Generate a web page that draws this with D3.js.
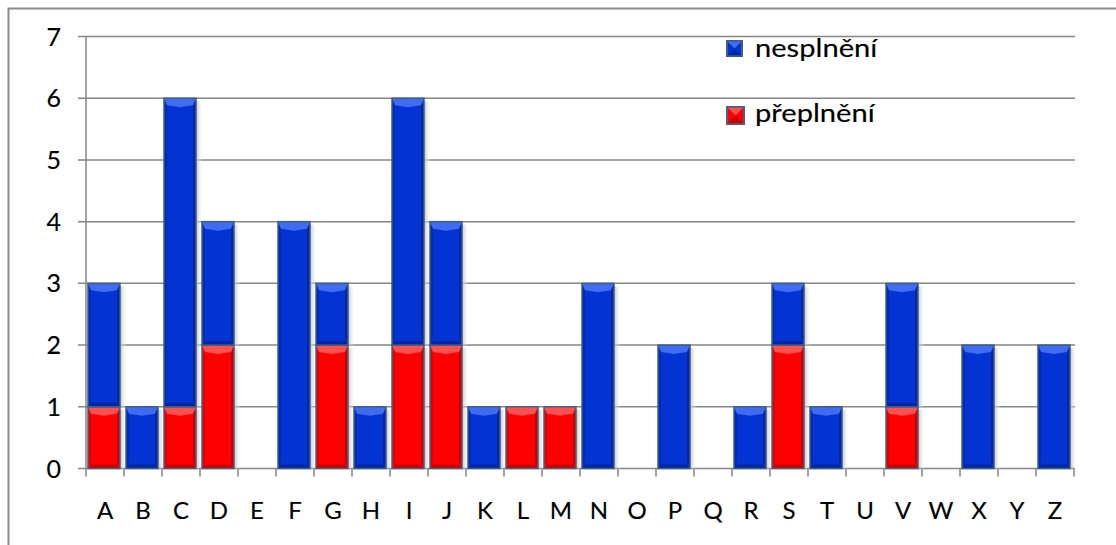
<!DOCTYPE html>
<html>
<head>
<meta charset="utf-8">
<script src="https://cdn.jsdelivr.net/npm/d3@7"></script>
<style>
  body { margin: 0; background: #fff; }
  text { font-family: Lato, "Open Sans", sans-serif; fill: #000; stroke: #000; stroke-width: 0.15px; }
</style>
</head>
<body>
<svg id="chart" width="1116" height="545"></svg>
<script>
"use strict";

// categories and values
const categories = ["A","B","C","D","E","F","G","H","I","J","K","L","M","N","O","P","Q","R","S","T","U","V","W","X","Y","Z"];
// red part (bottom)
const preplneni = [1,0,1,2,0,0,2,0,2,2,0,1,1,0,0,0,0,0,2,0,0,1,0,0,0,0];
// blue part (top)
const nesplneni = [2,1,5,2,0,4,1,1,4,2,1,0,0,3,0,2,0,1,1,1,0,2,0,2,0,2];
const yTicks = [0,1,2,3,4,5,6,7];
const seriesNames = ["nesplnění", "přeplnění"];

const svg = d3.select("#chart");

// outer frame (cut off at right/bottom)
svg.append("path")
    .attr("d", "M8.5,545 L8.5,8.5 L1116,8.5")
    .attr("fill", "none")
    .attr("stroke", "#8c8c8c")
    .attr("stroke-width", 2);

const margin = {left: 86, right: 1074, top: 36.5, bottom: 468.5};

const y = d3.scaleLinear()
    .domain([0, 7])
    .range([margin.bottom, margin.top]);

const x = d3.scaleBand()
    .domain(categories)
    .range([margin.left, margin.right]);

// gridlines
svg.append("g")
    .selectAll("line")
    .data(yTicks)
    .enter()
    .append("line")
    .attr("x1", margin.left - 8)
    .attr("x2", margin.right + 1)
    .attr("y1", d => y(d))
    .attr("y2", d => y(d))
    .attr("stroke", "#868686")
    .attr("stroke-width", 1.5);

// y axis line
svg.append("line")
    .attr("x1", margin.left).attr("x2", margin.left)
    .attr("y1", margin.top).attr("y2", margin.bottom)
    .attr("stroke", "#868686").attr("stroke-width", 1.5);

// y labels
svg.append("g")
    .selectAll("text")
    .data(yTicks)
    .enter()
    .append("text")
    .attr("x", 61)
    .attr("y", d => y(d))
    .attr("dy", "0.36em")
    .attr("text-anchor", "end")
    .attr("font-size", 25)
    .text(d => d);

// x ticks (category boundaries)
const boundaries = categories.map(c => x(c)).concat([margin.right]);
svg.append("g")
    .selectAll("line")
    .data(boundaries)
    .enter()
    .append("line")
    .attr("x1", d => d).attr("x2", d => d)
    .attr("y1", margin.bottom).attr("y2", margin.bottom + 8)
    .attr("stroke", "#868686").attr("stroke-width", 1.5);

// x labels
svg.append("g")
    .selectAll("text")
    .data(categories)
    .enter()
    .append("text")
    .attr("x", d => x(d) + x.bandwidth() / 2)
    .attr("y", 519)
    .attr("text-anchor", "middle")
    .attr("font-size", 24)
    .text(d => d);

// gradient for the shadow
const defs = svg.append("defs");
const sh = defs.append("linearGradient").attr("id", "shadow").attr("x1", 0).attr("x2", 1);
sh.append("stop").attr("offset", 0).attr("stop-color", "#b8b8b8").attr("stop-opacity", 0.9);
sh.append("stop").attr("offset", 1).attr("stop-color", "#ffffff").attr("stop-opacity", 0);

const palettes = {
    blue: {base: "#0433d4", top: "#3f6cf2", bottom: "#0226a0", side: "#0329b8", stroke: "#3f5f88"},
    red:  {base: "#ff0000", top: "#ff5050", bottom: "#c80000", side: "#e30000", stroke: "#4a6184"}
};

// bevelled bar
function drawBar(g, x0, w, y0, y1, pal) {
    const h = y0 - y1;
    if (h <= 0) return;
    const b = Math.min(7, h / 2);
    // shadow at right side
    g.append("rect")
        .attr("x", x0 + w).attr("y", y1 + 3)
        .attr("width", 7).attr("height", h - 3)
        .attr("fill", "url(#shadow)");
    g.append("rect")
        .attr("x", x0).attr("y", y1).attr("width", w).attr("height", h)
        .attr("fill", pal.base);
    // left and right bevels
    g.append("polygon")
        .attr("points", [[x0, y1], [x0 + 3, y1 + b], [x0 + 3, y0 - b], [x0, y0]].join(" "))
        .attr("fill", pal.side);
    g.append("polygon")
        .attr("points", [[x0 + w, y1], [x0 + w - 3, y1 + b], [x0 + w - 3, y0 - b], [x0 + w, y0]].join(" "))
        .attr("fill", pal.bottom);
    // top bevel
    g.append("polygon")
        .attr("points", [[x0, y1], [x0 + w, y1], [x0 + w - 3, y1 + b], [x0 + w / 2, y1 + b + 2], [x0 + 3, y1 + b]].join(" "))
        .attr("fill", pal.top);
    // bottom bevel
    g.append("polygon")
        .attr("points", [[x0, y0], [x0 + w, y0], [x0 + w - 3, y0 - 4], [x0 + 3, y0 - 4]].join(" "))
        .attr("fill", pal.bottom);
    g.append("rect")
        .attr("x", x0).attr("y", y1).attr("width", w).attr("height", h)
        .attr("fill", "none")
        .attr("stroke", pal.stroke)
        .attr("stroke-width", 1.5);
}

const bars = svg.append("g");
const bw = 32;
categories.forEach((c, i) => {
    const x0 = x(c) + x.bandwidth() / 2 - 1 - bw / 2;
    const r = preplneni[i], bl = nesplneni[i];
    drawBar(bars, x0, bw, y(0), y(r), palettes.red);
    drawBar(bars, x0, bw, y(r), y(r + bl), palettes.blue);
});

// legend
const legend = svg.append("g");
const legendItems = [
    {name: seriesNames[0], pal: palettes.blue, cy: 48.5, s: 15, base: 57},
    {name: seriesNames[1], pal: palettes.red, cy: 115.5, s: 17, base: 122}
];
legendItems.forEach(it => {
    const s = it.s;
    const lx = 727, ly = it.cy - s / 2;
    legend.append("rect").attr("x", lx).attr("y", ly).attr("width", s).attr("height", s)
        .attr("fill", it.pal.base).attr("stroke", it.pal.stroke).attr("stroke-width", 2);
    legend.append("polygon")
        .attr("points", [[lx, ly], [lx + s, ly], [lx + s / 2, ly + s / 2]].join(" "))
        .attr("fill", it.pal.top);
    legend.append("polygon")
        .attr("points", [[lx, ly + s], [lx + s, ly + s], [lx + s / 2, ly + s / 2]].join(" "))
        .attr("fill", it.pal.bottom);
    legend.append("rect").attr("x", lx).attr("y", ly).attr("width", s).attr("height", s)
        .attr("fill", "none").attr("stroke", it.pal.stroke).attr("stroke-width", 1.5);
    legend.append("text")
        .attr("transform", "translate(755," + it.base + ") scale(1.12,1)")
        .attr("font-size", 26)
        .text(it.name);
});
</script>
</body>
</html>
